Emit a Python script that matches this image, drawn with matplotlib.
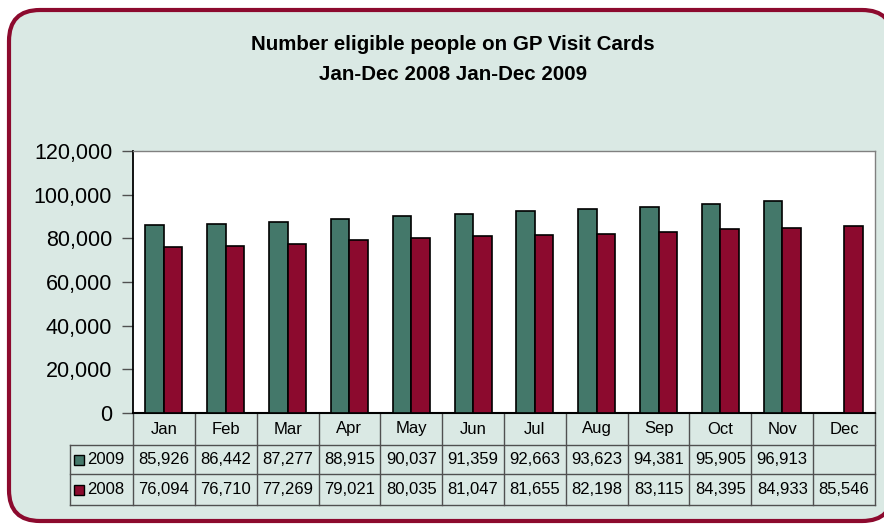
import numpy as np
import matplotlib.pyplot as plt
import matplotlib.transforms as mtransforms
from matplotlib.patches import FancyBboxPatch, Rectangle
from matplotlib.ticker import FuncFormatter

plt.rcParams['font.family'] = ['Liberation Sans', 'DejaVu Sans']

months = ["Jan", "Feb", "Mar", "Apr", "May", "Jun",
          "Jul", "Aug", "Sep", "Oct", "Nov", "Dec"]
series_names = ["2009", "2008"]
values_2009 = [85926, 86442, 87277, 88915, 90037, 91359,
               92663, 93623, 94381, 95905, 96913, None]
values_2008 = [76094, 76710, 77269, 79021, 80035, 81047,
               81655, 82198, 83115, 84395, 84933, 85546]
yticks = [0, 20000, 40000, 60000, 80000, 100000, 120000]

green = "#44786a"
red = "#8c0a2e"
bg = "#dae9e4"

fig = plt.figure(figsize=(8.84, 5.26), dpi=100, facecolor="white")

# rounded frame round the whole chart
W, H = 884, 526
frame = FancyBboxPatch((9 / W, 5 / H), (893 - 9) / W, (516 - 5) / H,
                       boxstyle="round,pad=0,rounding_size=0.035",
                       transform=fig.transFigure, facecolor=bg,
                       edgecolor=red, linewidth=3, zorder=-5,
                       mutation_aspect=W / H)
fig.patches.append(frame)

fig.text(453 / W, 1 - 44 / H, "Number eligible people on GP Visit Cards",
         ha="center", va="center", fontsize=14.8, fontweight="bold")
fig.text(453 / W, 1 - 74 / H, "Jan-Dec 2008 Jan-Dec 2009",
         ha="center", va="center", fontsize=14.8, fontweight="bold")

left, right, top, bottom = 133, 875, 151, 413
ax = fig.add_axes([left / W, 1 - bottom / H, (right - left) / W, (bottom - top) / H])
ax.set_facecolor("white")

x = np.arange(len(months))
v09 = np.array([np.nan if v is None else v for v in values_2009], dtype=float)
v08 = np.array(values_2008, dtype=float)
bw = 0.3
ax.bar(x - bw / 2, v09, bw, color=green, edgecolor="black", linewidth=1.2, zorder=3)
ax.bar(x + bw / 2, v08, bw, color=red, edgecolor="black", linewidth=1.2, zorder=3)

ax.set_xlim(-0.5, len(months) - 0.5)
ax.set_ylim(0, 120000)
ax.set_yticks(yticks)
ax.yaxis.set_major_formatter(FuncFormatter(lambda v, p: f"{int(v):,}"))
ax.tick_params(axis="y", labelsize=15.5, length=8, width=1, direction="out", pad=7,
               color="#505050")
ax.set_xticks([])
for side in ("top", "right"):
    ax.spines[side].set_color("#808080")
    ax.spines[side].set_linewidth(1)
ax.spines["left"].set_linewidth(1.3)
ax.spines["bottom"].set_linewidth(1.5)

# data table under the plot
tr = mtransforms.blended_transform_factory(ax.transData, ax.transAxes)
ph = bottom - top
y_head = -32 / ph
y_r1 = -61 / ph
y_r2 = -92 / ph
x_lab = (70 - left) / ((right - left) / len(months)) - 0.5
lc = "#505050"
kw = dict(transform=tr, clip_on=False, color=lc, linewidth=1)

for k in range(len(months) + 1):
    ax.plot([k - 0.5, k - 0.5], [0, y_r2], **kw)
ax.plot([x_lab, x_lab], [y_head, y_r2], **kw)
for yy in (y_head, y_r1, y_r2):
    ax.plot([x_lab, len(months) - 0.5], [yy, yy], **kw)

fs = 12
for i, m in enumerate(months):
    ax.text(i, y_head / 2, m, transform=tr, ha="center", va="center", fontsize=fs)
    if values_2009[i] is not None:
        ax.text(i, (y_head + y_r1) / 2, f"{values_2009[i]:,}", transform=tr,
                ha="center", va="center", fontsize=fs)
    ax.text(i, (y_r1 + y_r2) / 2, f"{values_2008[i]:,}", transform=tr,
            ha="center", va="center", fontsize=fs)

sq = 10 / ((right - left) / len(months))
for name, col, y0, y1 in ((series_names[0], green, y_head, y_r1),
                          (series_names[1], red, y_r1, y_r2)):
    yc = (y0 + y1) / 2
    ax.add_patch(Rectangle((x_lab + 0.06, yc - 5 / ph), sq, 10 / ph, transform=tr,
                           facecolor=col, edgecolor="black", linewidth=1,
                           clip_on=False))
    ax.text(x_lab + 0.28, yc, name, transform=tr, ha="left", va="center", fontsize=fs)

fig.savefig("out.png", dpi=100, facecolor="white")
